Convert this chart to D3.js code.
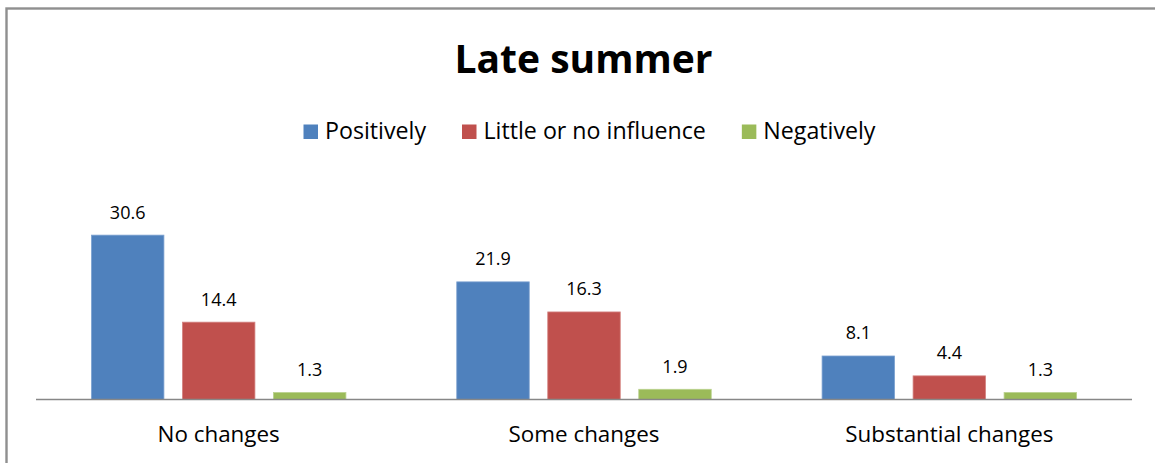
<!DOCTYPE html>
<html>
<head>
<meta charset="utf-8">
<script src="https://cdn.jsdelivr.net/npm/d3@7"></script>
<style>
  html, body { margin: 0; padding: 0; background: #fff; }
  svg { display: block; }
  text { font-family: "Open Sans", "Noto Sans", sans-serif; fill: #000; }
</style>
</head>
<body>
<svg id="chart" width="1155" height="463"></svg>
<script>
const title = "Late summer";
const categories = ["No changes", "Some changes", "Substantial changes"];
const series = ["Positively", "Little or no influence", "Negatively"];
const positively = [30.6, 21.9, 8.1];
const littleOrNone = [14.4, 16.3, 4.4];
const negatively = [1.3, 1.9, 1.3];
const seriesValues = [positively, littleOrNone, negatively];
const colors = ["#4F81BD", "#C0504D", "#9BBB59"];
const strokes = ["#7ea3d1", "#d48482", "#bad28e"];
const yMax = 35;

const svg = d3.select("#chart");
const W = 1155, H = 463;

// frame
svg.append("rect")
  .attr("x", 6.5).attr("y", 8.5)
  .attr("width", W + 20).attr("height", H + 20)
  .attr("fill", "#fff")
  .attr("stroke", "#8f8f8f").attr("stroke-width", 2.4);

const plot = { left: 36, right: 1132, top: 211.5, bottom: 399.5 };

const x0 = d3.scaleBand().domain(categories).range([plot.left, plot.right]).padding(0);
const x1 = d3.scaleBand().domain(series).range([0, x0.bandwidth()])
  .paddingInner(0.2033).paddingOuter(0.609);
const y = d3.scaleLinear().domain([0, yMax]).range([plot.bottom, plot.top]);

// title
svg.append("text")
  .attr("x", 583.5).attr("y", 73)
  .attr("text-anchor", "middle")
  .style("font-weight", "bold").style("font-size", "39px")
  .text(title);

// legend
const legend = svg.append("g");
const legendFont = 23.2;
const sq = 14.5, gapSqText = 7, gapItem = 36;
const items = legend.selectAll("g.item").data(series).join("g").attr("class", "item");
items.append("rect").attr("width", sq).attr("height", sq)
  .attr("fill", (d, i) => colors[i]);
items.append("text").attr("x", sq + gapSqText).attr("y", 14.3)
  .style("font-size", legendFont + "px").text(d => d);
let widths = [];
items.each(function() { widths.push(sq + gapSqText + d3.select(this).select("text").node().getComputedTextLength()); });
const total = d3.sum(widths) + gapItem * (series.length - 1);
let cx = 589.5 - total / 2;
items.each(function(d, i) {
  d3.select(this).attr("transform", `translate(${cx},${124.5})`);
  cx += widths[i] + gapItem;
});

// bars
const groups = svg.append("g").selectAll("g").data(categories).join("g")
  .attr("transform", d => `translate(${x0(d)},0)`);

groups.each(function(cat, ci) {
  const g = d3.select(this);
  const data = series.map((s, si) => ({ s, si, v: seriesValues[si][ci] }));
  g.selectAll("rect").data(data).join("rect")
    .attr("x", d => x1(d.s))
    .attr("y", d => y(d.v))
    .attr("width", x1.bandwidth())
    .attr("height", d => y(0) - y(d.v))
    .attr("fill", d => colors[d.si])
    .attr("stroke", d => strokes[d.si])
    .attr("stroke-width", 0.8);
  g.selectAll("text").data(data).join("text")
    .attr("x", d => x1(d.s) + x1.bandwidth() / 2)
    .attr("y", d => y(d.v) - 16.5)
    .attr("text-anchor", "middle")
    .style("font-size", "18px")
    .text(d => d.v.toFixed(1));
});

// baseline
svg.append("line")
  .attr("x1", plot.left).attr("x2", plot.right)
  .attr("y1", y(0)).attr("y2", y(0))
  .attr("stroke", "#878787").attr("stroke-width", 1.5);

// category labels
svg.append("g").selectAll("text").data(categories).join("text")
  .attr("x", d => x0(d) + x0.bandwidth() / 2)
  .attr("y", 442.3)
  .attr("text-anchor", "middle")
  .style("font-size", "22.4px")
  .text(d => d);
</script>
</body>
</html>
